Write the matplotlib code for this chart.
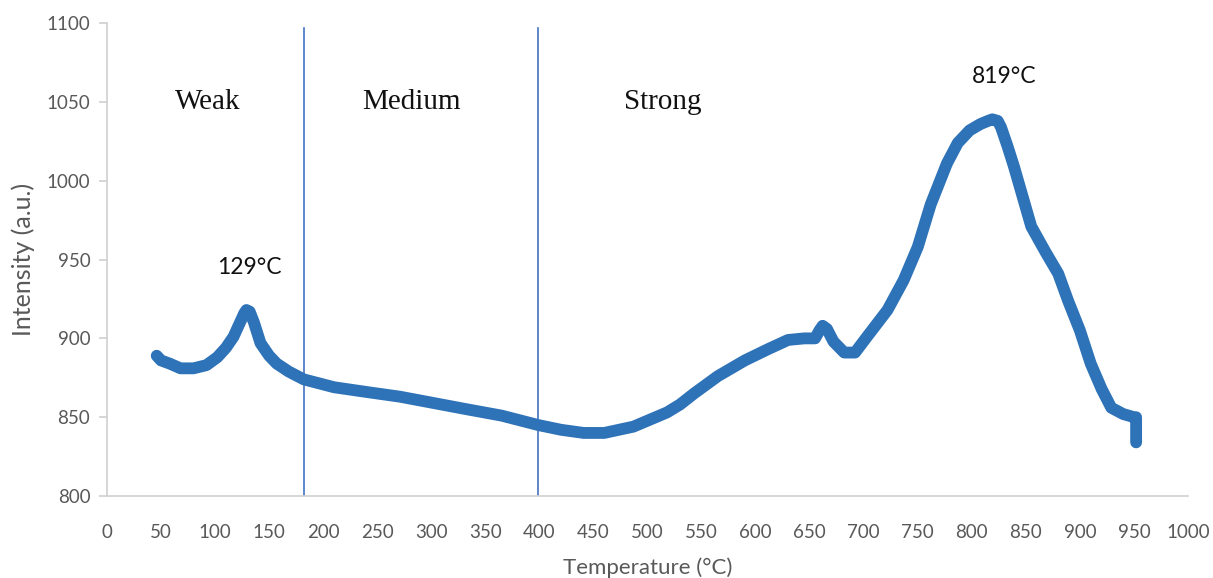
import matplotlib
matplotlib.use("Agg")
import matplotlib.pyplot as plt

# Data (temperature °C, intensity a.u.)
temperature = [46, 50, 58, 68, 80, 92, 102, 110, 117, 123, 127, 129, 132, 136, 142, 150,
               157, 168, 182, 210, 240, 271, 302, 333, 365, 399, 420, 441, 460, 487,
               518, 530, 543, 565, 590, 611, 630, 645, 655, 659, 662, 666, 672, 682,
               692, 703, 722, 737, 750, 762, 777, 787, 798, 808, 815, 819, 824, 827, 833, 839,
               847, 855, 868, 880, 889, 900, 910, 920, 929, 940, 950, 952, 952]
intensity = [889, 886, 884, 881, 881, 883, 888, 894, 901, 910, 916, 918, 917, 910, 897, 889,
             884, 879, 874, 869, 866, 863, 859, 855, 851, 845, 842, 840, 840, 844,
             853, 858, 865, 876, 886, 893, 899, 900, 900, 905, 908, 906, 898, 891,
             891, 901, 918, 937, 958, 985, 1011, 1024, 1032, 1036, 1038, 1039, 1038, 1034, 1022, 1009,
             990, 971, 955, 941, 924, 905, 884, 868, 856, 852, 850, 850, 834]

region_bounds = [182, 399]
region_labels = ["Weak", "Medium", "Strong"]
region_label_x = [93, 282, 514]
peak_labels = ["129\u00b0C", "819\u00b0C"]
peak_label_x = [132, 830]
peak_label_y = [945, 1066]
x_ticks = list(range(0, 1001, 50))
y_ticks = list(range(800, 1101, 50))

fig = plt.figure(figsize=(12.13, 5.78), dpi=100)
ax = fig.add_axes([0.0882, 0.1419, 0.8912, 0.818])

ax.plot(temperature, intensity, color="#2E72B7", lw=8.5, solid_capstyle="round",
        solid_joinstyle="round", zorder=3)

for b in region_bounds:
    ax.plot([b, b], [800, 1097], color="#4472C4", lw=1.2, zorder=2)

for lab, x in zip(region_labels, region_label_x):
    ax.text(x, 1050, lab, ha="center", va="center", fontsize=21,
            family="Liberation Serif", color="#111111")

for lab, x, y in zip(peak_labels, peak_label_x, peak_label_y):
    ax.text(x, y, lab, ha="center", va="center", fontsize=16.5,
            family="Lato", color="#111111")

ax.set_xlim(0, 1000)
ax.set_ylim(800, 1100)
ax.set_xticks(x_ticks)
ax.set_yticks(y_ticks)

for s in ["top", "right"]:
    ax.spines[s].set_visible(False)
for s in ["left", "bottom"]:
    ax.spines[s].set_color("#D0D0D0")
    ax.spines[s].set_linewidth(1.2)

ax.tick_params(axis="y", length=6, color="#D0D0D0", width=1.2, pad=6)
ax.tick_params(axis="x", length=0, pad=20)
for lab in ax.get_xticklabels() + ax.get_yticklabels():
    lab.set_family("Lato")
    lab.set_fontsize(13.5)
    lab.set_color("#595959")

ax.set_xlabel("Temperature (\u00b0C)", family="Lato", fontsize=16, color="#595959", labelpad=12)
ax.set_ylabel("Intensity (a.u.)", family="Lato", fontsize=18, color="#595959", labelpad=8)

fig.savefig("out.png", dpi=100)
